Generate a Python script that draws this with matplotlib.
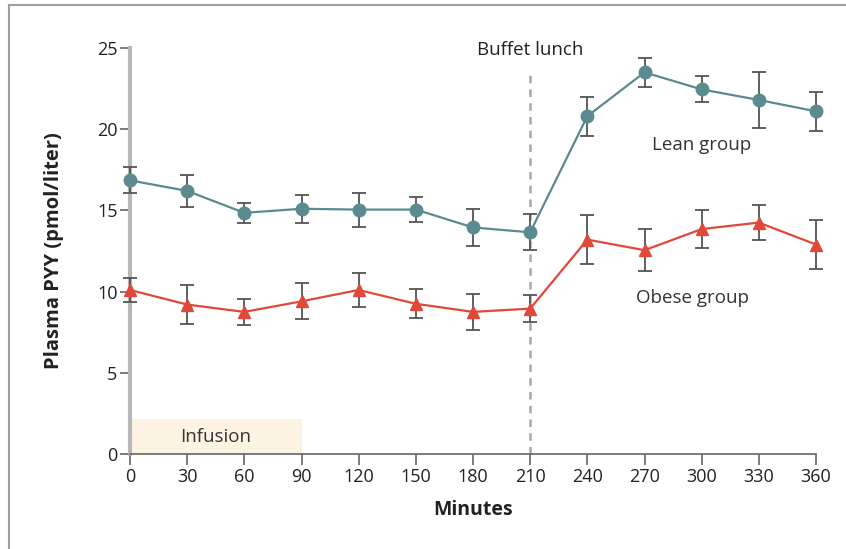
import matplotlib.pyplot as plt
from matplotlib.patches import Rectangle
from matplotlib.lines import Line2D

# data
minutes = [0, 30, 60, 90, 120, 150, 180, 210, 240, 270, 300, 330, 360]
lean = [16.85, 16.2, 14.85, 15.1, 15.05, 15.05, 13.95, 13.65, 20.8, 23.5, 22.45, 21.8, 21.1]
lean_err = [0.8, 1.0, 0.6, 0.85, 1.05, 0.75, 1.15, 1.1, 1.2, 0.9, 0.8, 1.75, 1.2]
obese = [10.1, 9.2, 8.75, 9.4, 10.1, 9.25, 8.75, 8.95, 13.2, 12.55, 13.85, 14.25, 12.9]
obese_err = [0.75, 1.2, 0.8, 1.1, 1.05, 0.9, 1.1, 0.85, 1.5, 1.3, 1.15, 1.1, 1.5]
xticks = [0, 30, 60, 90, 120, 150, 180, 210, 240, 270, 300, 330, 360]
yticks = [0, 5, 10, 15, 20, 25]
lunch_time = 210
infusion = (0, 90)

plt.rcParams['font.family'] = ['Open Sans', 'DejaVu Sans']

leanCol = '#5b8a8f'
obeseCol = '#e0483a'
errCol = '#555555'

fig = plt.figure(figsize=(8.46, 5.49), dpi=100)
ax = fig.add_axes([130/846, 1-454/549, 686/846, 406/549])

# figure frame (top and left only)
fig.add_artist(Line2D([9/846, 1], [1-5/549, 1-5/549], transform=fig.transFigure, color='#a0a0a0', lw=1.5))
fig.add_artist(Line2D([9/846, 9/846], [0, 1-5/549], transform=fig.transFigure, color='#a0a0a0', lw=1.5))

# infusion box
ax.add_patch(Rectangle((infusion[0], 0), infusion[1]-infusion[0], 2.15, facecolor='#fdf3e3', edgecolor='none', zorder=0))
ax.text(45, 1.05, 'Infusion', ha='center', va='center', fontsize=13.5, color='#333333')

# lunch line
ax.plot([lunch_time, lunch_time], [0, 23.6], ls=(0, (3, 2.5)), color='#a8a8a8', lw=1.8, zorder=1)
ax.text(lunch_time, 24.35, 'Buffet lunch', ha='center', va='bottom', fontsize=13.5, color='#222222')

for y, e, c, m, s in [(lean, lean_err, leanCol, 'o', 9), (obese, obese_err, obeseCol, '^', 8)]:
    lines = ax.errorbar(minutes, y, yerr=e, color=c, marker=m, ms=s, lw=1.6,
                        ecolor=errCol, elinewidth=1.3, capsize=5, capthick=1.3, zorder=3)
    for art in lines.get_children():
        art.set_clip_on(False)

ax.text(300, 19.0, 'Lean group', ha='center', va='center', fontsize=13.5, color='#333333')
ax.text(295, 9.6, 'Obese group', ha='center', va='center', fontsize=13.5, color='#333333')

ax.set_xlim(0, 360)
ax.set_ylim(0, 25)
ax.set_xticks(xticks)
ax.set_yticks(yticks)
ax.tick_params(axis='both', labelsize=13, colors='#666666', labelcolor='#222222', width=1.2)
ax.tick_params(axis='x', length=8, direction='out', pad=2)
ax.tick_params(axis='y', length=7, direction='out', pad=2)

for s in ['top', 'right']:
    ax.spines[s].set_visible(False)
ax.spines['left'].set_color('#b8b8b8')
ax.spines['left'].set_linewidth(3)
ax.spines['bottom'].set_color('#666666')
ax.spines['bottom'].set_linewidth(1.2)
ax.spines['bottom'].set_bounds(0, 360)

ax.set_xlabel('Minutes', fontsize=14, fontweight='bold', color='#222222', labelpad=10)
ax.set_ylabel('Plasma PYY (pmol/liter)', fontsize=14.5, fontweight='bold', color='#222222', labelpad=24)

fig.savefig('out.png', dpi=100)
